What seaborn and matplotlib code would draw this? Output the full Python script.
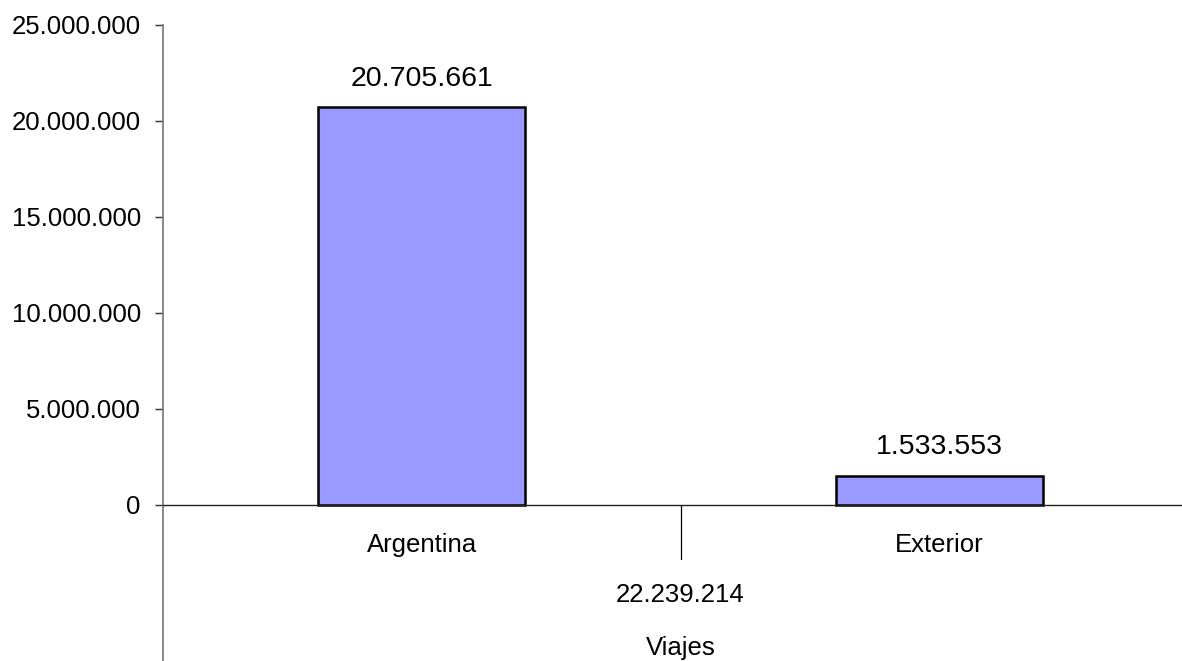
import matplotlib
matplotlib.use("Agg")
import matplotlib.pyplot as plt
import seaborn as sns
import pandas as pd
from matplotlib.ticker import FuncFormatter

categories = ["Argentina", "Exterior"]
values = [20705661, 1533553]
axis_title = "Viajes"
y_ticks = [0, 5000000, 10000000, 15000000, 20000000, 25000000]


def fmt(v, pos=None):
    return f"{v:,.0f}".replace(",", ".")


group_label = fmt(sum(values))

sns.set_theme(style="white")
plt.rcParams['font.family'] = ['Liberation Sans', 'DejaVu Sans']

W, H = 1182, 661
fig = plt.figure(figsize=(W / 100, H / 100), dpi=100)
ax = fig.add_axes([163 / W, 0, (W - 163) / W, 1 - 25 / H])

df = pd.DataFrame({"cat": categories, "val": values})
sns.barplot(data=df, x="cat", y="val", color="#9999FF", width=0.4,
            edgecolor="black", linewidth=1.8, saturation=1, ax=ax)

ax.set_ylim(-8.125e6, 25e6)
ax.set_xlim(-0.5, 1.469)

for s in ("top", "right"):
    ax.spines[s].set_visible(False)
ax.spines["bottom"].set_position(("data", 0))
ax.spines["bottom"].set_color("#202020")
ax.spines["bottom"].set_linewidth(1.0)
ax.spines["left"].set_color("#808080")
ax.spines["left"].set_linewidth(1.3)

ax.set_yticks(y_ticks)
ax.yaxis.set_major_formatter(FuncFormatter(fmt))
ax.tick_params(axis="y", left=True, direction="out", length=6, width=1,
               color="#303030", pad=10, labelsize=18.5, labelcolor="black")
ax.tick_params(axis="x", bottom=False, length=0, pad=20, labelsize=18.5,
               labelcolor="black")
ax.set_xlabel("")
ax.set_ylabel("")

# category separator below the axis
zero_frac = (H - 505) / (H - 25)
sep_frac = (H - 559) / (H - 25)
ax.axvline(0.5, ymin=sep_frac, ymax=zero_frac, color="black", lw=0.9)

ax.bar_label(ax.containers[0], labels=[fmt(v) for v in values],
             padding=11, fontsize=20.5, color="black")

ax.annotate(group_label, xy=(0.5, 0), xycoords="data",
            xytext=(0, -90 * 0.72), textcoords="offset points",
            ha="center", va="center", fontsize=18.5, color="black")
ax.annotate(axis_title, xy=(0.5, 0), xycoords="data",
            xytext=(0, -143 * 0.72), textcoords="offset points",
            ha="center", va="center", fontsize=18.5, color="black")

fig.savefig("out.png", dpi=100)
